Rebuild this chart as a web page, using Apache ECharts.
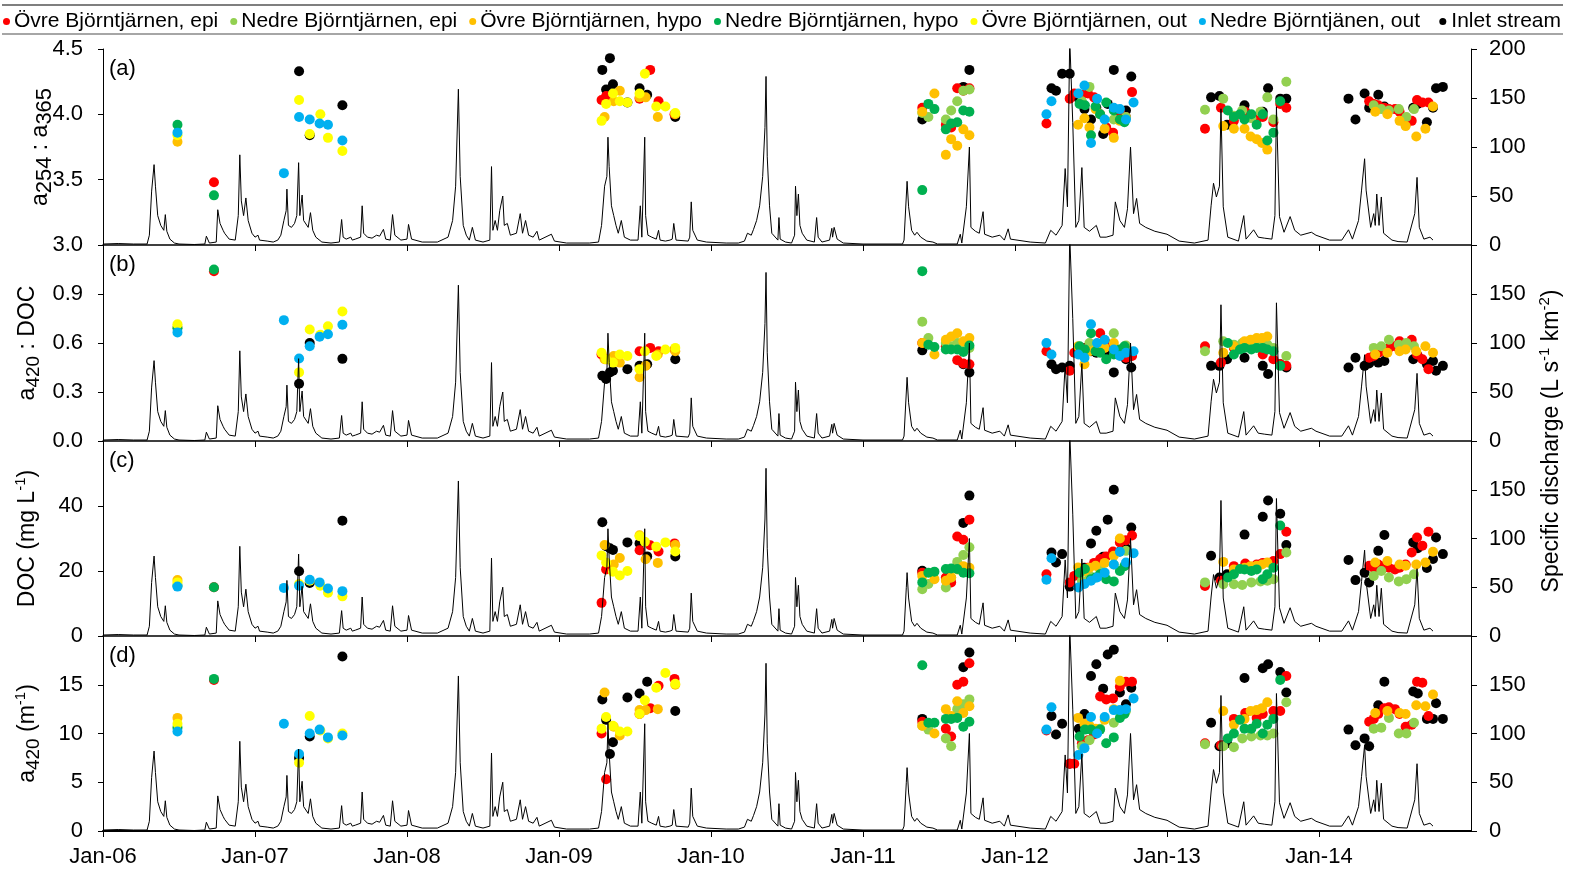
<!DOCTYPE html>
<html><head><meta charset="utf-8">
<script src="https://cdn.jsdelivr.net/npm/echarts@6/dist/echarts.min.js"></script>
<style>html,body{margin:0;padding:0;background:#fff}#c{width:1583px;height:870px}</style>
</head><body><div id="c"></div>
<script>
// ---------- labels ----------
const seriesNames = ['Övre Björntjärnen, epi','Nedre Björntjärnen, epi','Övre Björntjärnen, hypo','Nedre Björntjärnen, hypo','Övre Björntjärnen, out','Nedre Björntjänen, out','Inlet stream'];
const seriesColors = ['#FF0000','#92D050','#FFC000','#00B050','#FFFF00','#00B0F0','#000000'];
const panelLabels = ['(a)','(b)','(c)','(d)'];
const xTickLabels = ['Jan-06','Jan-07','Jan-08','Jan-09','Jan-10','Jan-11','Jan-12','Jan-13','Jan-14'];
const leftNames = ['{n|a}{subL|254}{n| : a}{subL|365}','{n|a}{sub|420}{n| : DOC}','{n|DOC (mg L}{sup|-1}{n|)}','{n|a}{sub|420}{n| (m}{sup|-1}{n|)}'];
const rightName = '{n|Specific discharge (L s}{sup|-1}{n| km}{sup|-2}{n|)}';
const leftMin = [3.0, 0, 0, 0];
const leftMax = [4.5, 1.2, 60, 20];
const leftStep = [0.5, 0.3, 20, 5];
const leftDecimals = [1, 1, 0, 0];

// ---------- Övre Björntjärnen, epi ----------
const oEpiT = [2006.73,
 2009.28,2009.31,2009.53,2009.60,2009.655,2009.76,
 2011.39,2011.545,2011.58,2011.62,2011.66,2011.70,
 2012.207,2012.36,2012.39,2012.44,2012.48,2012.52,2012.56,2012.60,2012.645,2012.69,2012.73,2012.77,
 2013.25,2013.355,2013.44,2013.515,2013.59,2013.63,2013.70,2013.745,2013.785,
 2014.33,2014.36,2014.39,2014.43,2014.46,2014.50,2014.53,2014.57,2014.61,2014.645,2014.68,2014.72];
const oEpiA = [3.48,
 4.11,4.14,4.12,4.34,4.10,4.00,
 4.05,3.92,3.90,4.20,4.18,4.20,
 3.93,4.12,4.16,4.15,4.16,4.13,4.00,3.90,3.86,4.02,3.98,4.17,
 3.89,4.05,3.95,4.02,3.96,3.98,3.94,4.08,4.05,
 4.10,4.08,4.07,4.05,4.04,4.04,4.02,3.92,3.95,4.11,4.09,4.09];
const oEpiB = [1.04,
 0.53,0.50,0.55,0.57,0.55,0.56,
 0.60,0.58,0.57,0.495,0.475,0.47,
 0.55,0.43,0.54,0.57,0.55,0.56,0.66,0.60,0.58,0.53,0.51,0.52,
 0.58,0.48,0.57,0.58,0.59,0.53,0.50,0.47,0.46,
 0.51,0.52,0.54,0.55,0.57,0.58,0.61,0.58,0.62,0.53,0.50,0.44];
const oEpiC = [15.0,
 10.2,20.5,26.4,27.9,26.0,28.5,
 19.5,18.0,16.5,30.6,29.6,35.8,
 19.0,16.5,18.5,20.0,21.0,22.5,23.7,24.5,26.0,28.8,29.5,30.9,
 15.4,17.0,21.5,22.3,22.0,22.5,23.1,25.2,32.1,
 21.6,21.0,22.0,21.5,21.0,20.5,21.0,22.0,25.7,30.3,27.8,32.1];
const oEpiD = [15.5,
 10.0,5.3,12.0,12.6,14.9,15.6,
 11.2,10.5,9.7,15.0,15.3,17.2,
 10.3,6.9,6.9,9.0,9.3,9.9,13.8,13.5,13.6,14.8,15.3,15.3,
 9.0,8.8,11.5,12.1,11.6,12.0,12.3,12.3,15.9,
 11.2,11.5,12.0,12.6,12.7,12.5,12.0,10.7,10.9,15.3,15.2,11.8];

// ---------- Nedre Björntjärnen, epi ----------
const nEpiT = [2011.39,2011.43,2011.545,2011.58,2011.62,2011.66,2011.70,
 2012.44,2012.49,2012.56,2012.65,2012.73,
 2013.25,2013.37,2013.44,2013.495,2013.555,2013.615,2013.66,2013.70,2013.785,
 2014.36,2014.41,2014.46,2014.525,2014.575,2014.625];
const nEpiA = [4.01,3.98,3.96,4.03,4.10,4.18,4.19,
 4.10,4.21,4.00,3.96,3.98,
 4.035,4.12,3.99,4.03,3.97,4.02,4.13,3.96,4.25,
 4.07,4.04,4.03,4.04,3.98,4.04];
const nEpiB = [0.73,0.63,0.60,0.58,0.60,0.58,0.57,
 0.55,0.60,0.57,0.66,0.585,
 0.55,0.61,0.59,0.60,0.61,0.60,0.59,0.57,0.52,
 0.57,0.58,0.62,0.59,0.60,0.58];
const nEpiC = [14.4,16.0,14.9,18.0,22.8,24.9,27.3,
 17.0,18.5,20.5,22.0,26.2,
 16.5,15.9,15.9,15.7,16.5,16.8,17.0,17.5,25.7,
 18.5,20.0,18.0,16.8,17.5,19.0];
const nEpiD = [10.8,10.4,9.5,8.7,12.5,13.0,13.5,
 8.7,9.3,10.5,11.1,12.3,
 8.9,8.7,8.6,9.5,9.7,9.8,9.8,10.0,13.2,
 10.5,10.6,11.6,10.0,10.0,11.1];

// ---------- Övre Björntjärnen, hypo ----------
const oHypT = [2006.49,
 2009.30,2009.36,2009.40,2009.53,2009.57,2009.65,2009.765,
 2011.39,2011.47,2011.545,2011.58,2011.62,2011.66,2011.70,
 2012.415,2012.457,2012.49,2012.53,2012.59,2012.65,2012.69,
 2013.37,2013.44,2013.51,2013.55,2013.59,2013.625,2013.66,
 2014.37,2014.45,2014.53,2014.57,2014.64,2014.70,2014.75];
const oHypA = [3.79,
 3.98,4.10,4.18,4.13,4.13,3.98,4.00,
 4.02,4.16,3.69,3.81,3.76,3.885,3.84,
 3.92,3.97,3.90,4.04,3.89,3.82,3.95,
 3.91,3.89,3.89,3.83,3.81,3.78,3.73,
 4.02,4.00,3.95,3.91,3.83,3.89,4.06];
const oHypB = [0.70,
 0.50,0.52,0.48,0.39,0.46,0.53,0.55,
 0.60,0.53,0.62,0.64,0.66,0.61,0.63,
 0.58,0.47,0.55,0.56,0.57,0.60,0.55,
 0.54,0.58,0.61,0.62,0.63,0.63,0.64,
 0.53,0.54,0.55,0.56,0.55,0.58,0.54];
const oHypC = [17.2,
 28.0,22.0,24.0,31.0,23.6,22.5,28.0,
 18.5,17.5,17.0,18.0,20.5,21.5,21.0,
 21.1,20.0,21.0,21.6,22.5,24.7,30.0,
 22.8,20.5,21.0,21.5,21.6,22.0,22.6,
 22.6,23.1,22.0,21.6,22.0,22.6,25.9];
const oHypD = [11.6,
 14.2,10.7,9.8,12.4,12.4,12.5,15.0,
 10.8,10.0,12.5,11.8,13.3,12.1,12.8,
 11.6,11.0,10.8,10.5,11.4,12.5,15.4,
 12.3,10.9,11.5,12.3,12.4,12.6,13.2,
 12.1,12.3,12.1,12.0,12.9,12.8,14.0];

// ---------- Nedre Björntjärnen, hypo ----------
const nHypT = [2006.49,2006.73,
 2011.39,2011.43,2011.47,2011.545,2011.58,2011.62,2011.66,2011.70,
 2012.425,2012.46,2012.50,2012.53,2012.56,2012.60,2012.65,2012.69,2012.72,
 2013.40,2013.44,2013.48,2013.51,2013.555,2013.59,2013.63,2013.66,2013.70,2013.745];
const nHypA = [3.92,3.38,
 3.42,4.08,4.04,3.885,3.93,3.94,4.03,4.02,
 4.08,4.07,3.84,4.06,4.00,4.09,4.03,3.96,3.94,
 4.03,3.98,4.00,3.96,4.00,3.92,4.00,3.80,3.86,4.10];
const nHypB = [0.69,1.05,
 1.04,0.59,0.575,0.56,0.56,0.56,0.545,0.585,
 0.58,0.56,0.66,0.55,0.54,0.50,0.53,0.56,0.58,
 0.60,0.53,0.56,0.57,0.56,0.57,0.57,0.56,0.55,0.46];
const nHypC = [15.5,15.0,
 16.5,19.5,19.8,20.6,20.8,20.6,19.5,19.3,
 19.5,20.6,17.5,18.0,19.0,17.5,16.8,20.0,21.5,
 18.0,19.0,20.6,20.5,20.0,20.5,17.5,19.0,21.0,34.0];
const nHypD = [10.6,15.6,
 17.0,11.1,11.1,11.5,11.5,11.6,10.7,11.2,
 9.7,10.4,10.4,10.2,10.4,9.0,9.6,11.6,12.0,
 9.5,10.0,11.4,10.5,10.5,11.0,10.0,10.9,11.5,15.5];

// ---------- Övre Björntjärnen, out ----------
const oOutT = [2006.49,
 2007.29,2007.36,2007.43,2007.48,2007.575,
 2009.28,2009.31,2009.355,2009.40,2009.45,2009.53,2009.565,2009.64,2009.70,2009.765];
const oOutA = [3.84,
 4.11,3.85,4.00,3.82,3.72,
 3.95,4.08,4.16,4.10,4.09,4.16,4.31,4.06,4.06,4.01];
const oOutB = [0.715,
 0.42,0.683,0.65,0.703,0.793,
 0.54,0.50,0.48,0.53,0.52,0.44,0.55,0.52,0.56,0.57];
const oOutC = [16.5,
 16.0,17.0,15.5,13.3,12.2,
 24.8,22.6,19.8,18.6,20.0,30.7,29.0,27.5,28.8,26.0];
const oOutD = [11.0,
 7.0,11.8,10.3,9.5,10.0,
 10.5,11.7,10.8,10.2,10.2,12.0,13.4,14.7,16.2,15.1];

// ---------- Nedre Björntjänen, out ----------
const nOutT = [2006.49,
 2007.19,2007.29,2007.36,2007.425,2007.48,2007.575,
 2012.207,2012.24,2012.417,2012.457,2012.50,2012.54,2012.59,2012.65,2012.69,2012.73,2012.78];
const nOutA = [3.86,
 3.55,3.98,3.96,3.93,3.92,3.80,
 4.00,4.10,4.16,4.22,3.78,4.12,3.96,4.05,4.04,3.96,4.09];
const nOutB = [0.665,
 0.74,0.505,0.58,0.638,0.654,0.712,
 0.60,0.53,0.53,0.51,0.715,0.60,0.62,0.56,0.52,0.54,0.55];
const nOutC = [15.2,
 14.8,15.5,17.3,16.5,14.6,13.8,
 17.3,23.9,14.9,16.0,17.0,18.0,19.5,22.0,25.9,22.6,25.5];
const nOutD = [10.2,
 11.0,7.9,10.0,10.4,9.6,9.8,
 10.4,12.7,7.8,8.5,11.7,10.0,11.7,12.4,12.4,12.5,13.6];

// ---------- Inlet stream ----------
const inletT = [2007.29,2007.36,2007.575,
 2009.285,2009.31,2009.335,2009.355,2009.45,2009.53,2009.58,2009.765,
 2011.39,2011.66,2011.70,
 2012.24,2012.27,2012.31,2012.36,2012.42,2012.457,2012.50,2012.535,2012.58,2012.61,2012.65,2012.69,2012.73,2012.765,
 2013.29,2013.345,2013.395,2013.51,2013.63,2013.665,2013.745,2013.785,
 2014.194,2014.24,2014.30,2014.33,2014.39,2014.43,2014.62,2014.65,2014.71,2014.75,2014.77,2014.815];
const inletA = [4.33,3.84,4.07,
 4.34,4.19,4.43,4.23,4.09,4.20,4.15,3.98,
 3.96,4.21,4.34,
 4.20,4.18,4.31,4.31,4.12,4.04,3.96,4.05,3.85,4.08,4.34,4.02,4.03,4.29,
 4.13,4.14,3.92,4.07,4.02,4.20,4.12,4.12,
 4.12,3.96,4.16,4.05,4.15,4.06,4.05,4.08,3.94,4.05,4.20,4.21];
const inletB = [0.35,0.60,0.503,
 0.40,0.38,0.42,0.43,0.44,0.46,0.47,0.50,
 0.555,0.47,0.42,
 0.47,0.44,0.45,0.46,0.55,0.57,0.55,0.54,0.56,0.55,0.42,0.53,0.50,0.45,
 0.46,0.46,0.50,0.51,0.46,0.41,0.47,0.45,
 0.45,0.51,0.46,0.475,0.48,0.49,0.50,0.52,0.47,0.49,0.43,0.46];
const inletC = [19.9,16.3,35.5,
 35.0,27.6,27.0,26.5,28.8,28.5,24.5,24.5,
 20.1,34.8,43.2,
 25.7,22.6,25.2,15.2,20.0,21.0,28.5,32.4,24.4,35.8,45.0,26.0,27.0,33.4,
 24.7,18.0,19.0,31.2,36.7,41.7,37.6,28.0,
 23.4,17.2,19.5,16.5,26.2,31.1,28.8,27.0,20.9,23.7,30.3,25.2];
const inletD = [7.5,9.7,17.9,
 13.5,11.4,7.9,9.1,13.7,14.1,15.3,12.3,
 11.5,16.8,18.3,
 11.8,9.9,11.0,6.9,10.5,12.0,15.9,17.1,14.6,18.1,18.6,14.2,13.0,14.7,
 11.1,8.7,9.0,15.7,16.7,17.1,16.3,14.2,
 10.4,8.8,9.5,8.7,12.9,15.3,14.3,14.1,11.5,11.5,13.1,11.5];

// ---------- Specific discharge (L s-1 km-2) ----------
const qT = [
 2006.00,2006.10,2006.20,2006.29,2006.305,2006.32,2006.336,2006.345,2006.36,2006.38,2006.40,2006.41,2006.42,2006.44,2006.47,2006.50,2006.60,2006.67,2006.68,2006.70,2006.745,2006.755,2006.77,2006.79,2006.80,2006.83,2006.87,2006.89,2006.90,2006.91,2006.925,2006.94,2006.955,2006.98,2007.00,2007.02,2007.03,2007.08,2007.12,
 2007.15,2007.17,2007.19,2007.205,2007.21,2007.22,2007.24,2007.26,2007.275,2007.287,2007.295,2007.31,2007.32,2007.35,2007.365,2007.38,2007.40,2007.44,2007.50,2007.555,2007.57,2007.58,2007.60,2007.63,2007.64,2007.66,2007.695,2007.705,2007.715,2007.74,2007.77,2007.80,2007.82,2007.845,2007.86,2007.89,2007.905,2007.92,2007.96,2008.00,2008.01,2008.03,2008.10,2008.20,
 2008.27,2008.30,2008.32,2008.338,2008.35,2008.37,2008.39,2008.41,2008.43,2008.45,2008.50,2008.545,2008.556,2008.565,2008.58,2008.595,2008.61,2008.63,2008.64,2008.66,2008.68,2008.72,2008.745,2008.76,2008.78,2008.80,2008.83,2008.855,2008.87,2008.95,2008.97,2009.05,2009.20,
 2009.26,2009.28,2009.30,2009.315,2009.322,2009.33,2009.345,2009.36,2009.375,2009.39,2009.41,2009.43,2009.47,2009.52,2009.535,2009.545,2009.555,2009.564,2009.57,2009.585,2009.61,2009.64,2009.655,2009.665,2009.70,2009.73,2009.745,2009.755,2009.77,2009.85,2009.86,2009.87,2009.88,2009.91,2009.97,2010.10,2010.18,
 2010.22,2010.24,2010.265,2010.28,2010.30,2010.32,2010.34,2010.355,2010.362,2010.37,2010.385,2010.40,2010.44,2010.447,2010.455,2010.49,2010.53,2010.55,2010.556,2010.565,2010.575,2010.585,2010.60,2010.63,2010.68,2010.695,2010.705,2010.73,2010.78,2010.795,2010.80,2010.81,2010.83,2010.87,2011.00,2011.26,
 2011.27,2011.285,2011.29,2011.30,2011.32,2011.34,2011.355,2011.38,2011.42,2011.46,2011.49,2011.62,2011.64,2011.65,2011.68,2011.70,2011.71,2011.74,2011.765,2011.79,2011.80,2011.85,2011.90,2011.93,2011.955,2011.97,2012.10,2012.20,
 2012.235,2012.27,2012.31,2012.33,2012.345,2012.36,2012.38,2012.40,2012.42,2012.44,2012.455,2012.49,2012.535,2012.56,2012.60,2012.645,2012.66,2012.69,2012.72,2012.74,2012.76,2012.78,2012.80,2012.82,2012.86,2012.92,2013.00,2013.08,2013.18,
 2013.27,2013.29,2013.306,2013.325,2013.345,2013.355,2013.37,2013.40,2013.47,2013.505,2013.52,2013.57,2013.60,2013.64,2013.69,2013.71,2013.72,2013.74,2013.77,2013.81,2013.84,2013.88,2013.95,2013.98,2014.07,2014.15,
 2014.194,2014.22,2014.26,2014.28,2014.30,2014.31,2014.34,2014.36,2014.37,2014.38,2014.395,2014.41,2014.425,2014.48,2014.52,2014.58,2014.63,2014.645,2014.66,2014.69,2014.73,2014.75];
const qV = [
 1,1.5,1,1,10,55,82,60,30,20,15,31,14,6,2,1,0.5,1,9,2,3,36,22,15,12,6,5,30,92,45,30,48,25,12,8,10,5,4,3,
 5,10,25,35,57,20,18,22,30,84,30,51,25,18,33,15,8,3,2,3,26,8,6,8,5,6,8,40,12,8,7,10,9,16,6,5,31,10,5,6,21,6,3,3,
 8,25,60,159,70,20,10,5,18,5,3,5,80,15,25,15,35,50,20,22,10,12,32,12,25,10,8,14,5,11,4,2,2,
 3,20,60,70,110,80,40,30,20,12,25,8,5,5,40,8,10,110,30,10,8,6,15,5,4,5,6,22,5,4,8,44,15,5,3,2,2,
 4,12,10,16,25,40,70,120,172,90,40,12,5,28,6,3,2,10,60,30,52,20,12,5,3,28,8,3,5,17,8,18,6,2,1,1,
 5,50,65,39,15,10,13,8,4,3,1,1,11,2,39,100,18,14,12,34,11,8,10,5,16.5,6,3,2,
 15,10,20,78,39,210,125,18,25,79,18,14,20,8,8,10,44,25,18,37,100,32,47.5,22,18,14,11,4,2,
 5,40,63,49,60,139,39,8,4,30,6,15.5,8,7,6,30,141,29,13,29,15,10,13,10,5,5,
 15.5,6,25,56,88,56,18,32,20,52,20,49,12,5,3.5,3,32,69,18,6,8,5];

// ---------- build ----------
const groups = [
 [inletT, inletA, inletB, inletC, inletD, 6],
 [oEpiT, oEpiA, oEpiB, oEpiC, oEpiD, 0],
 [nEpiT, nEpiA, nEpiB, nEpiC, nEpiD, 1],
 [oHypT, oHypA, oHypB, oHypC, oHypD, 2],
 [nHypT, nHypA, nHypB, nHypC, nHypD, 3],
 [oOutT, oOutA, oOutB, oOutC, oOutD, 4],
 [nOutT, nOutA, nOutB, nOutC, nOutD, 5]
];
const FONT = 'Liberation Sans, Arial, sans-serif';
const gridTop = [49, 245, 441, 636];
const gridH = [196, 196, 195, 195];
const nameGaps = [47, 60, 60, 60];
const richStyle = {
  n: {fontSize: 23, lineHeight: 30, fontFamily: FONT, color: '#000'},
  sub: {fontSize: 19, lineHeight: 19, verticalAlign: 'bottom', fontFamily: FONT, color: '#000'},
  subL: {fontSize: 22, lineHeight: 22, verticalAlign: 'bottom', fontFamily: FONT, color: '#000'},
  sup: {fontSize: 15, lineHeight: 15, verticalAlign: 'top', fontFamily: FONT, color: '#000'}
};

const grids = [], xAxes = [], yAxes = [], series = [];
for (let p = 0; p < 4; p++) {
  grids.push({left: 103, right: 112, top: gridTop[p], height: gridH[p], containLabel: false});
  xAxes.push({
    type: 'value', gridIndex: p, min: 2006, max: 2015, interval: 1,
    axisLine: {show: true, onZero: false, lineStyle: {color: '#000', width: p === 3 ? 2 : 1.5}},
    axisTick: {show: true, length: 6, lineStyle: {color: '#000', width: 1}},
    splitLine: {show: false},
    axisLabel: {show: p === 3, margin: 15, fontSize: 22, fontFamily: FONT, color: '#000', showMaxLabel: false,
      formatter: v => xTickLabels[Math.round(v - 2006)] || ''}
  });
  yAxes.push({
    type: 'value', gridIndex: p, position: 'left', min: leftMin[p], max: leftMax[p], interval: leftStep[p],
    axisLine: {show: true, onZero: false, lineStyle: {color: '#000', width: 1}},
    axisTick: {show: true, length: 5, lineStyle: {color: '#000'}},
    splitLine: {show: false},
    axisLabel: {margin: 20, fontSize: 22, fontFamily: FONT, color: '#000', showMaxLabel: p === 0,
      formatter: v => v.toFixed(leftDecimals[p])},
    name: leftNames[p], nameLocation: 'middle', nameGap: nameGaps[p], nameMoveOverlap: false,
    nameTextStyle: {rich: richStyle}
  });
  yAxes.push({
    type: 'value', gridIndex: p, position: 'right', min: 0, max: 200, interval: 50,
    axisLine: {show: true, onZero: false, lineStyle: {color: '#000', width: 1}},
    axisTick: {show: true, length: 6, lineStyle: {color: '#000'}},
    splitLine: {show: false},
    axisLabel: {margin: 18, fontSize: 22, fontFamily: FONT, color: '#000', showMaxLabel: p === 0}
  });
  groups.forEach(g => {
    const k = g[5];
    series.push({
      type: 'scatter', name: seriesNames[k], xAxisIndex: p, yAxisIndex: 2 * p,
      symbol: 'circle', symbolSize: 10,
      itemStyle: {color: seriesColors[k], opacity: 1},
      data: g[0].map((t, i) => [t, g[p + 1][i]]).filter(d => d[1] != null),
      z: 2
    });
  });
  series.push({
    type: 'line', name: 'discharge', xAxisIndex: p, yAxisIndex: 2 * p + 1,
    showSymbol: false, symbol: 'none', clip: true,
    lineStyle: {color: '#000', width: 1},
    data: qT.map((t, i) => [t, qV[i]]), z: 3, silent: true
  });
}

const graphics = [
  {type: 'line', shape: {x1: 2, y1: 5, x2: 1563, y2: 5}, style: {stroke: '#7f7f7f', lineWidth: 2}},
  {type: 'line', shape: {x1: 2, y1: 34, x2: 1563, y2: 34}, style: {stroke: '#a6a6a6', lineWidth: 2}},
  {type: 'text', x: 1552, y: 441, rotation: Math.PI / 2,
   style: {text: rightName, rich: richStyle, align: 'center', verticalAlign: 'middle', fill: '#000'}}
];
for (let p = 0; p < 4; p++) {
  graphics.push({type: 'text', x: 109, y: gridTop[p] + 20,
    style: {text: panelLabels[p], fontSize: 22, fontFamily: FONT, fill: '#000', align: 'left', verticalAlign: 'middle'}});
}

const chart = echarts.init(document.getElementById('c'), null, {renderer: 'canvas'});
chart.setOption({
  animation: false,
  backgroundColor: '#fff',
  textStyle: {fontFamily: FONT},
  legend: [
    {data: seriesNames.slice(0, 6).map(n => ({name: n, icon: 'circle'})), left: 3, top: 11, padding: 0,
     itemWidth: 7, itemHeight: 7, itemGap: 12, selectedMode: false,
     textStyle: {fontSize: 21, fontFamily: FONT, color: '#000', padding: [0, 0, 0, -1]}},
    {data: [{name: seriesNames[6], icon: 'circle'}], right: 22, top: 11, padding: 0,
     itemWidth: 7, itemHeight: 7, selectedMode: false,
     textStyle: {fontSize: 21, fontFamily: FONT, color: '#000'}}
  ],
  grid: grids, xAxis: xAxes, yAxis: yAxes, series: series, graphic: graphics
});
</script></body></html>
